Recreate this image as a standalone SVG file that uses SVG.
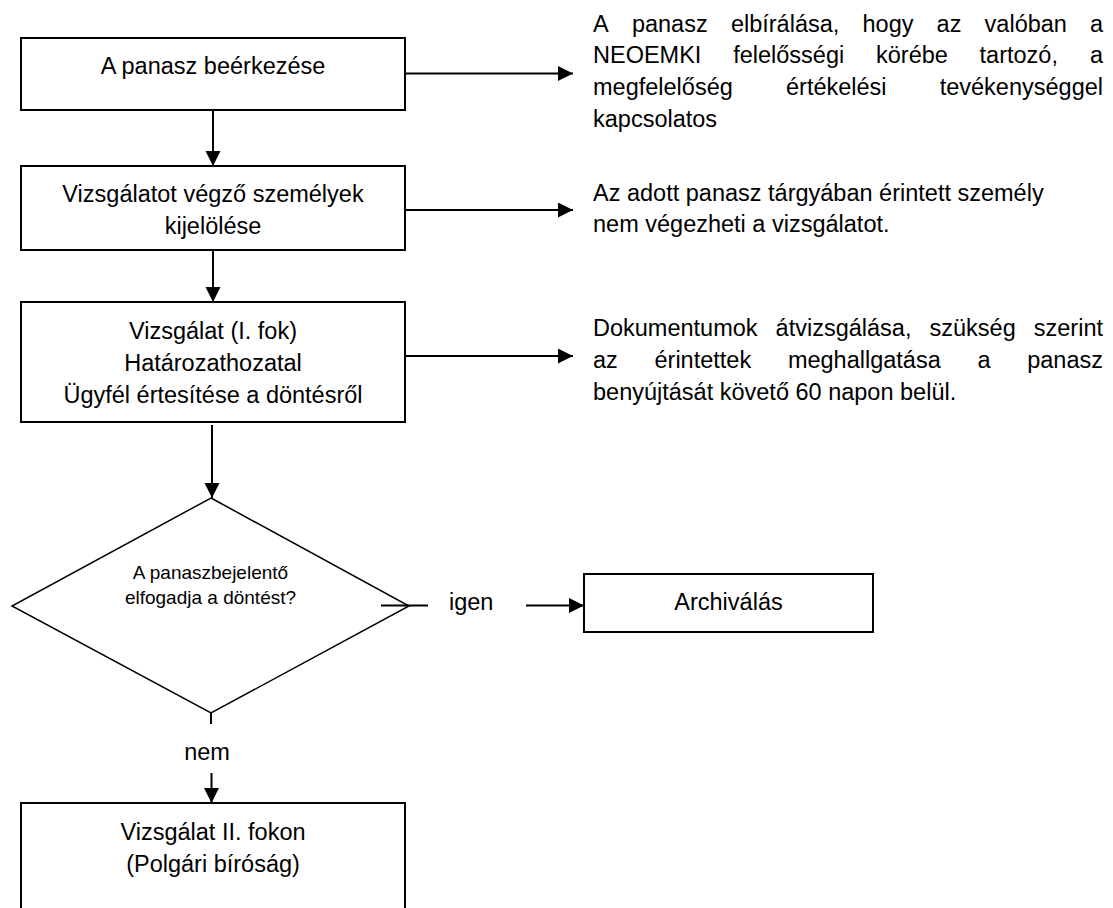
<svg xmlns="http://www.w3.org/2000/svg" width="1113" height="908" viewBox="0 0 1113 908">
<style>
.box{fill:#fff;stroke:#000;stroke-width:2}
.dia{fill:#fff;stroke:#000;stroke-width:1.5}
.t{font-family:"Liberation Sans",Arial,sans-serif;font-size:23.5px;fill:#000}
.tc{font-family:"Liberation Sans",Arial,sans-serif;font-size:23.5px;fill:#000;text-anchor:middle}
.ts{font-family:"Liberation Sans",Arial,sans-serif;font-size:19px;fill:#000;text-anchor:middle}
.ln{fill:none;stroke:#000;stroke-width:2}
.arr{fill:none;stroke:#000;stroke-width:2;marker-end:url(#ah)}
</style>
<defs>
<marker id="ah" markerUnits="userSpaceOnUse" markerWidth="16" markerHeight="16" refX="15" refY="7.5" orient="auto">
<path d="M0,0 L15,7.5 L0,15 Z" fill="#000"/>
</marker>
</defs>
<rect width="1113" height="908" fill="#fff"/>

<g id="n1">
<rect class="box" x="21" y="38" width="384" height="72"/>
<text class="tc" x="213" y="74">A panasz beérkezése</text>
</g>

<g id="n2">
<rect class="box" x="21" y="166" width="384" height="84"/>
<text class="tc" x="213" y="201.5">Vizsgálatot végző személyek</text>
<text class="tc" x="213" y="233.5">kijelölése</text>
</g>

<g id="n3">
<rect class="box" x="21" y="302" width="384" height="120"/>
<text class="tc" x="213" y="338.5">Vizsgálat (I. fok)</text>
<text class="tc" x="213" y="370.5">Határozathozatal</text>
<text class="tc" x="213" y="402.5">Ügyfél értesítése a döntésről</text>
</g>

<g id="n4">
<polygon class="dia" points="211,498 409,606 211,713 12,606"/>
<text class="ts" x="210.5" y="578.5">A panaszbejelentő</text>
<text class="ts" x="210.5" y="603.5">elfogadja a döntést?</text>
</g>

<g id="n5">
<rect class="box" x="584" y="574" width="289" height="58"/>
<text class="tc" x="728.5" y="610">Archiválás</text>
</g>

<g id="n6">
<rect class="box" x="21" y="803" width="384" height="130"/>
<text class="tc" x="213" y="840">Vizsgálat II. fokon</text>
<text class="tc" x="213" y="872">(Polgári bíróság)</text>
</g>

<g id="note1">
<text class="t" y="31.7"><tspan x="593">A</tspan><tspan x="631.9">panasz</tspan><tspan x="730.9">elbírálása,</tspan><tspan x="862.5">hogy</tspan><tspan x="936.6">az</tspan><tspan x="984.6">valóban</tspan><tspan x="1090">a</tspan></text>
<text class="t" y="63.3"><tspan x="593">NEOEMKI</tspan><tspan x="733.2">felelősségi</tspan><tspan x="876">körébe</tspan><tspan x="979.6">tartozó,</tspan><tspan x="1090">a</tspan></text>
<text class="t" y="95"><tspan x="593">megfelelőség</tspan><tspan x="786">értékelési</tspan><tspan x="939.7">tevékenységgel</tspan></text>
<text class="t" x="593" y="126.7">kapcsolatos</text>
</g>

<g id="note2">
<text class="t" x="593" y="200.5">Az adott panasz tárgyában érintett személy</text>
<text class="t" x="593" y="232.3">nem végezheti a vizsgálatot.</text>
</g>

<g id="note3">
<text class="t" y="336"><tspan x="593">Dokumentumok</tspan><tspan x="775.6">átvizsgálása,</tspan><tspan x="929.5">szükség</tspan><tspan x="1033.8">szerint</tspan></text>
<text class="t" y="368.3"><tspan x="593">az</tspan><tspan x="654.5">érintettek</tspan><tspan x="787.9">meghallgatása</tspan><tspan x="977.4">a</tspan><tspan x="1027.2">panasz</tspan></text>
<text class="t" x="593" y="400">benyújtását követő 60 napon belül.</text>
</g>

<g id="connectors">
<line class="arr" x1="405" y1="73.5" x2="573" y2="73.5"/>
<line class="arr" x1="405" y1="210" x2="573" y2="210"/>
<line class="arr" x1="405" y1="356" x2="573" y2="356"/>
<line class="arr" x1="213" y1="110" x2="213" y2="166"/>
<line class="arr" x1="213" y1="250" x2="213" y2="302"/>
<line class="arr" x1="212" y1="425" x2="212" y2="498"/>
<line class="ln" x1="381" y1="605.5" x2="428" y2="605.5"/>
<line class="arr" x1="526" y1="605.5" x2="584" y2="605.5"/>
<line class="ln" x1="211" y1="713" x2="211" y2="724"/>
<line class="arr" x1="211.5" y1="773" x2="211.5" y2="803"/>
<text class="t" x="449" y="609.5">igen</text>
<text class="tc" x="207" y="760">nem</text>
</g>
</svg>
